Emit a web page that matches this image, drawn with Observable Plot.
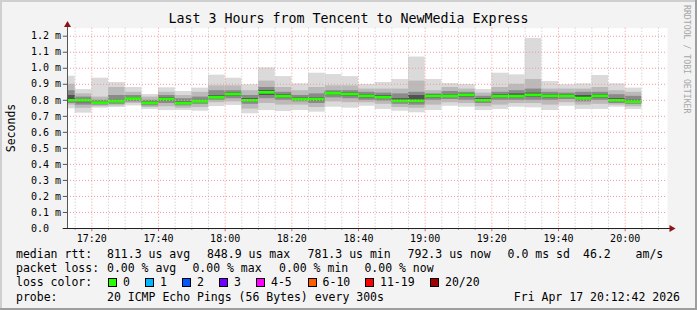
<!DOCTYPE html>
<html>
<head>
<meta charset="utf-8">
<script src="https://cdn.jsdelivr.net/npm/d3@7"></script>
<script src="https://cdn.jsdelivr.net/npm/@observablehq/plot@0.6"></script>
<style>
  html, body { margin: 0; padding: 0; background: #f3f3f3; }
  #root { position: relative; width: 697px; height: 310px; background: #f3f3f3; overflow: hidden;
          font-family: "DejaVu Sans Mono", monospace; color: #000; }
  .abs { position: absolute; white-space: pre; }
  .leg { font-size: 11.5px; line-height: 14px; height: 14px; }
  .box { position: absolute; width: 7px; height: 7px; border: 1px solid #000; }
</style>
</head>
<body>
<div id="root"></div>
<script>
// ---- data ----
const title = "Last 3 Hours from Tencent to NewMedia Express";
const yLabel = "Seconds";
const times = ["17:10","17:15","17:20","17:25","17:30","17:35","17:40","17:45","17:50","17:55",
               "18:00","18:05","18:10","18:15","18:20","18:25","18:30","18:35","18:40","18:45",
               "18:50","18:55","19:00","19:05","19:10","19:15","19:20","19:25","19:30","19:35",
               "19:40","19:45","19:50","19:55","20:00"];
// RTT distribution per 5-minute step, in milliseconds
const pMax = [0.950,0.867,0.938,0.911,0.880,0.836,0.878,0.855,0.876,0.957,0.938,0.897,1.003,0.948,0.903,0.969,0.961,0.948,0.899,0.911,0.930,1.070,0.930,0.905,0.899,0.867,0.969,0.959,1.186,0.917,0.897,0.903,0.955,0.903,0.876];
const p90  = [0.900,0.840,0.820,0.880,0.850,0.820,0.850,0.830,0.850,0.890,0.890,0.860,0.920,0.880,0.860,0.880,0.890,0.890,0.870,0.870,0.870,0.920,0.860,0.880,0.870,0.845,0.880,0.900,0.930,0.870,0.870,0.870,0.880,0.860,0.850];
const p75  = [0.860,0.820,0.800,0.830,0.830,0.800,0.830,0.810,0.820,0.860,0.860,0.830,0.880,0.850,0.830,0.840,0.860,0.860,0.850,0.845,0.840,0.850,0.840,0.855,0.850,0.825,0.850,0.860,0.870,0.850,0.845,0.850,0.850,0.835,0.825];
const p60  = [0.830,0.805,0.790,0.800,0.815,0.790,0.815,0.790,0.800,0.830,0.845,0.810,0.860,0.835,0.815,0.815,0.850,0.845,0.835,0.830,0.810,0.830,0.835,0.835,0.840,0.810,0.835,0.840,0.845,0.835,0.835,0.830,0.835,0.810,0.800];
const med  = [0.800,0.800,0.786,0.794,0.811,0.784,0.807,0.782,0.794,0.819,0.838,0.800,0.849,0.826,0.807,0.807,0.844,0.838,0.828,0.820,0.797,0.797,0.828,0.828,0.834,0.800,0.826,0.826,0.834,0.828,0.828,0.813,0.828,0.800,0.792];
const p40  = [0.790,0.785,0.780,0.785,0.800,0.775,0.795,0.775,0.785,0.810,0.825,0.790,0.830,0.815,0.800,0.795,0.830,0.825,0.815,0.810,0.790,0.785,0.815,0.820,0.820,0.790,0.815,0.815,0.820,0.815,0.820,0.805,0.815,0.790,0.785];
const p25  = [0.780,0.770,0.770,0.775,0.790,0.765,0.780,0.765,0.775,0.800,0.810,0.775,0.810,0.800,0.790,0.780,0.815,0.810,0.800,0.795,0.775,0.770,0.800,0.805,0.800,0.780,0.800,0.800,0.800,0.800,0.805,0.790,0.800,0.780,0.775];
const p10  = [0.770,0.750,0.760,0.765,0.780,0.755,0.760,0.750,0.755,0.785,0.790,0.745,0.780,0.770,0.770,0.755,0.790,0.785,0.785,0.775,0.755,0.750,0.770,0.785,0.780,0.760,0.770,0.780,0.780,0.770,0.785,0.770,0.775,0.770,0.760];
const pMin = [0.747,0.720,0.751,0.755,0.765,0.743,0.736,0.736,0.732,0.761,0.768,0.716,0.736,0.730,0.736,0.726,0.757,0.751,0.763,0.743,0.732,0.722,0.736,0.763,0.757,0.736,0.743,0.757,0.753,0.736,0.763,0.743,0.743,0.757,0.743];

const yTicks = [0.0,0.1,0.2,0.3,0.4,0.5,0.6,0.7,0.8,0.9,1.0,1.1,1.2];
const xMajorTicks = ["17:20","17:40","18:00","18:20","18:40","19:00","19:20","19:40","20:00"];
const windowStart = "17:12:42";
const windowEnd = "20:12:42";

const rttLabel = "median rtt:";
const rttStats = ["811.3 us avg","848.9 us max","781.3 us min","792.3 us now","0.0 ms sd","46.2","am/s"];
const lossLabel = "packet loss:";
const lossStats = ["0.00 % avg","0.00 % max","0.00 % min","0.00 % now"];
const lossColorLabel = "loss color:";
const lossNames = ["0","1","2","3","4-5","6-10","11-19","20/20"];
const lossColors = ["#26ff00","#00b8ff","#0059ff","#7000ff","#ff00ff","#ff5e00","#ff0000","#a10000"];
const probeLabel = "probe:";
const probeText = "20 ICMP Echo Pings (56 Bytes) every 300s";
const stamp = "Fri Apr 17 20:12:42 2026";
const watermark = "RRDTOOL / TOBI OETIKER";

// ---- helpers ----
const toMin = s => { const p = s.split(":").map(Number); return p[0]*60 + p[1] + (p[2]||0)/60; };
const fmtMin = m => { const h = Math.floor(m/60), mm = Math.round(m - h*60); return String(h).padStart(2,"0")+":"+String(mm).padStart(2,"0"); };
const x0 = toMin(windowStart), x1 = toMin(windowEnd);
const step = 5;
const rows = times.map((t,i) => ({a: toMin(t), b: toMin(t)+step, min: pMin[i], p10: p10[i], p25: p25[i], p40: p40[i],
  med: med[i], p60: p60[i], p75: p75[i], p90: p90[i], max: pMax[i]}));
const majors = xMajorTicks.map(toMin);
const minors = d3.range(Math.ceil(x0/step)*step, x1, step).filter(m => !majors.includes(m));

const layers = [["min","max","#dadada"],["p10","p90","#bababa"],["p25","p75","#8a8a8a"],["p40","p60","#525252"]];

const root = document.getElementById("root");

const chart = Plot.plot({
  width: 697, height: 310,
  marginLeft: 67, marginRight: 30, marginTop: 27.7, marginBottom: 82,
  x: {domain: [x0, x1], axis: null},
  y: {domain: [0, 1.25], axis: null},
  style: {background: "transparent", fontFamily: "DejaVu Sans Mono", fontSize: "10px", color: "#000", overflow: "visible"},
  marks: [
    Plot.frame({fill: "white", stroke: null}),
    ...layers.map(([lo, hi, c]) => Plot.rect(rows, {x1: "a", x2: "b", y1: lo, y2: hi, fill: c, clip: true})),
    Plot.ruleY(rows, {y: "med", x1: "a", x2: "b", stroke: "#26ff00", strokeWidth: 2.8, clip: true}),
    // grid
    Plot.ruleX(minors, {stroke: "#c4c4c4", strokeDasharray: "1,2"}),
    Plot.ruleX(majors, {stroke: "#f49a9a", strokeDasharray: "1,2"}),
    Plot.ruleY(yTicks.slice(1), {stroke: "#f49a9a", strokeDasharray: "1,2"}),
    // axes
    Plot.ruleY(yTicks, {x1: x0 - 1.25, x2: x0, stroke: "#555"}),
    Plot.ruleX(majors, {y1: 0, y2: -0.02, stroke: "#e06060"}),
    Plot.ruleX(minors, {y1: 0, y2: -0.012, stroke: "#999"}),
    Plot.ruleX([x0], {y1: 0, y2: 1.265, stroke: "#555"}),
    Plot.ruleY([0], {x1: x0 - 1.25, x2: x1 + 1.5, stroke: "#222"}),
    Plot.dot([x0], {x: d => d, y: 1.27, symbol: "triangle", r: 2.6, fill: "#8b1515", stroke: null}),
    Plot.dot([x1 + 1.2], {x: d => d, y: 0, symbol: "triangle", r: 2.6, fill: "#8b1515", stroke: null, rotate: 90}),
    Plot.text(yTicks, {x: x0, y: d => d, text: d => d === 0 ? "0.0" : d.toFixed(1) + " m", textAnchor: "start", dx: -36.5, fill: "#000"}),
    Plot.text(majors, {x: d => d, y: 0, text: d => fmtMin(d), dy: 10, lineAnchor: "middle", fill: "#000"})
  ]
});
chart.style.position = "absolute";
chart.style.left = "0px";
chart.style.top = "0px";
root.appendChild(chart);

function addText(txt, left, cy, cls, extra) {
  const d = document.createElement("div");
  d.className = "abs " + (cls || "leg");
  d.textContent = txt;
  d.style.left = left + "px";
  d.style.top = (cy - 7) + "px";
  if (extra) Object.assign(d.style, extra);
  root.appendChild(d);
  return d;
}

// frame shading
[["0px","0px","697px","2px","#cfcfcf"],["0px","0px","2px","310px","#cfcfcf"],
 ["0px","308px","697px","2px","#9e9e9e"],["695px","0px","2px","310px","#9e9e9e"]].forEach(([l,t,w,h,c]) => {
  const d = document.createElement("div");
  Object.assign(d.style, {position: "absolute", left: l, top: t, width: w, height: h, background: c});
  root.appendChild(d);
});

// title
addText(title, 0, 19, "", {width: "697px", textAlign: "center", fontSize: "13.3px", lineHeight: "14px"});
// y label
addText(yLabel, -39, 128, "leg", {width: "100px", textAlign: "center", transform: "rotate(-90deg)", transformOrigin: "50% 50%"});
// watermark
const wm = document.createElement("div");
wm.textContent = watermark;
Object.assign(wm.style, {position: "absolute", left: "683px", top: "5px", writingMode: "vertical-rl", fontSize: "8.2px",
  color: "#a6a6a6", whiteSpace: "pre", lineHeight: "8px"});
root.appendChild(wm);

// legend rows
const rttX = [107, 207, 307.6, 407.6, 507.6, 583, 635.6];
addText(rttLabel, 16, 254);
rttStats.forEach((s,i) => addText(s, rttX[i], 254));
const lossX = [107, 192.4, 279, 364.4];
addText(lossLabel, 16, 268);
lossStats.forEach((s,i) => addText(s, lossX[i], 268));
addText(lossColorLabel, 16, 282);
const boxX = [108, 145, 182, 219, 256, 307.6, 365, 430];
lossNames.forEach((n,i) => {
  const b = document.createElement("div");
  b.className = "box";
  Object.assign(b.style, {left: boxX[i] + "px", top: "277.5px", background: lossColors[i]});
  root.appendChild(b);
  addText(n, boxX[i] + 15, 282);
});
addText(probeLabel, 16, 296.5);
addText(probeText, 107, 296.5);
addText(stamp, 0, 296.5, "leg", {left: "auto", right: "17px"});
</script>
</body>
</html>
